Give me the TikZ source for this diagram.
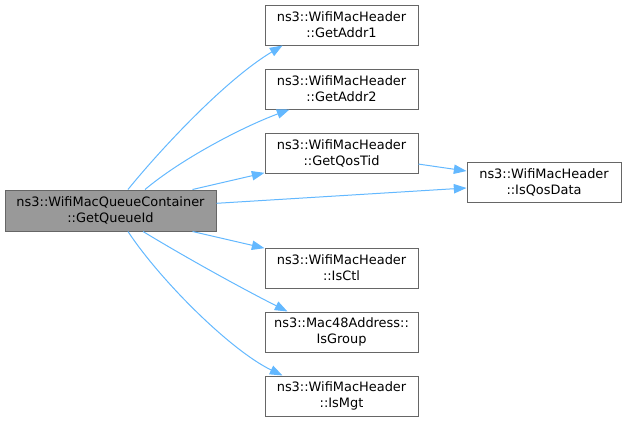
\documentclass[tikz,border=0pt]{standalone}
\usepackage{fontspec}
\setmainfont{DejaVu Sans}
\usetikzlibrary{arrows.meta}
\definecolor{edgeblue}{HTML}{63B8FF}
\definecolor{boxgray}{HTML}{666666}
\definecolor{mainfill}{HTML}{999999}
\begin{document}
\begin{tikzpicture}[x=0.75pt,y=-0.75pt,
  fn/.style={draw=boxgray,fill=white,line width=0.75pt,align=center,inner sep=0pt,
    minimum width=114.75pt,minimum height=30pt,font=\fontsize{9.7}{12}\selectfont},
  call/.style={edgeblue,line width=0.75pt,-{Triangle[length=9.5pt,width=7pt]}}]
\useasboundingbox (0,0) rectangle (627,421);
\node[fn,fill=mainfill,minimum width=158.25pt,minimum height=30.75pt] (main) at (110.5,210.5) {ns3::WifiMacQueueContainer\\::GetQueueId};
\node[fn] (addr1) at (341.5,25) {ns3::WifiMacHeader\\::GetAddr1};
\node[fn] (addr2) at (341.5,89) {ns3::WifiMacHeader\\::GetAddr2};
\node[fn] (qostid) at (341.5,153) {ns3::WifiMacHeader\\::GetQosTid};
\node[fn,minimum width=115.5pt] (isqos) at (544,182.5) {ns3::WifiMacHeader\\::IsQosData};
\node[fn] (isctl) at (341.5,268) {ns3::WifiMacHeader\\::IsCtl};
\node[fn] (isgroup) at (341.5,332) {ns3::Mac48Address::\\IsGroup};
\node[fn] (ismgt) at (341.5,396) {ns3::WifiMacHeader\\::IsMgt};
\draw[call] ([xshift=13.1pt]main.north) .. controls (160,150) and (225,80) .. ([xshift=13.5pt]addr1.south west);
\draw[call] ([xshift=25.9pt]main.north) .. controls (180,160) and (240,128) .. ([xshift=18.75pt]addr2.south west);
\draw[call] ([xshift=61.5pt]main.north) -- ([yshift=0.5pt]qostid.south west);
\draw[call] ([yshift=5.4pt]main.east) -- ([yshift=-4.1pt]isqos.west);
\draw[call] ([yshift=-8.3pt]qostid.east) -- ([yshift=8.6pt]isqos.west);
\draw[call] ([xshift=61.5pt]main.south) -- ([yshift=-0.5pt]isctl.north west);
\draw[call] ([xshift=24.4pt]main.south) .. controls (190,260) and (245,290) .. ([xshift=17.25pt]isgroup.north west);
\draw[call] ([xshift=13.1pt]main.south) .. controls (160,280) and (230,350) .. ([xshift=13.5pt]ismgt.north west);
\end{tikzpicture}
\end{document}
